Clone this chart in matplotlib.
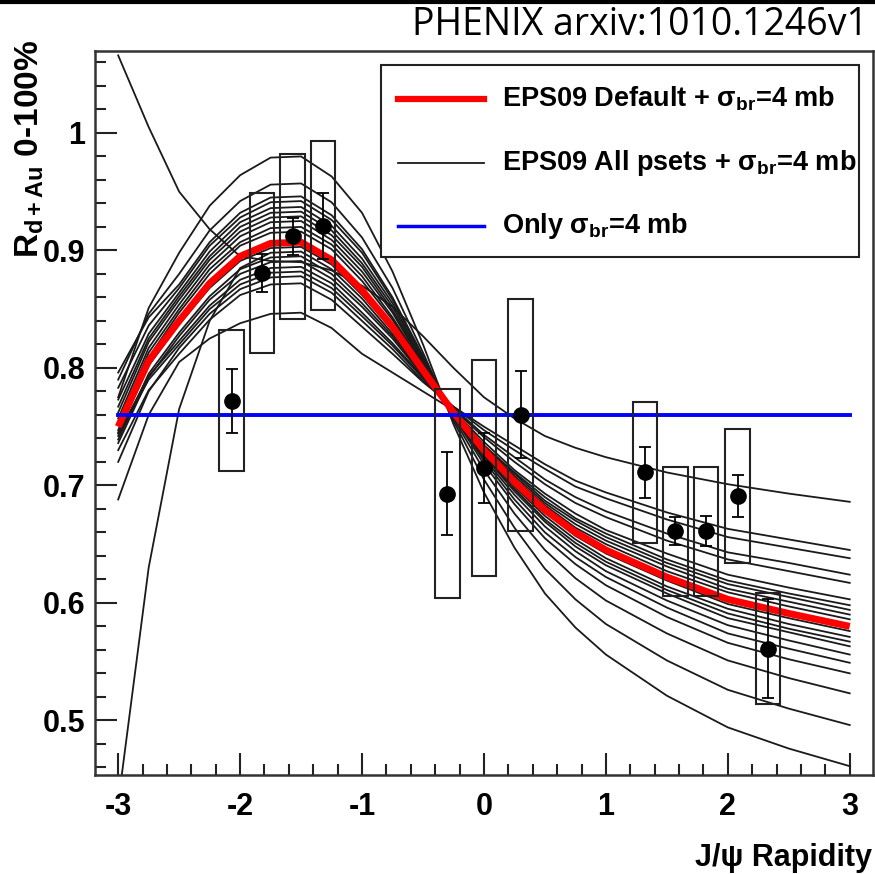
import matplotlib
matplotlib.use("Agg")
import matplotlib.pyplot as plt
from matplotlib.patches import Rectangle
from matplotlib.lines import Line2D
from matplotlib.ticker import MultipleLocator

plt.rcParams['font.family'] = ['Liberation Sans', 'DejaVu Sans']
plt.rcParams['font.weight'] = 'bold'
plt.rcParams['mathtext.fontset'] = 'custom'
plt.rcParams['mathtext.rm'] = 'Liberation Sans'
plt.rcParams['mathtext.bf'] = 'Liberation Sans:bold'
plt.rcParams['mathtext.it'] = 'Liberation Sans:italic'

# rapidity grid of the model curves
rap = [-3, -2.75, -2.5, -2.25, -2, -1.75, -1.5, -1.25, -1, -0.75, -0.5, -0.25,
       0, 0.25, 0.5, 0.75, 1, 1.5, 2, 2.5, 3]

eps09_default = [0.750, 0.806, 0.840, 0.872, 0.895, 0.906, 0.907, 0.892, 0.866, 0.835, 0.798,
                 0.762, 0.730, 0.703, 0.679, 0.660, 0.645, 0.622, 0.603, 0.591, 0.580]

eps09_psets = [
    [0.775, 0.851, 0.898, 0.938, 0.964, 0.979, 0.980, 0.963, 0.932, 0.882, 0.820, 0.752, 0.694, 0.647, 0.608, 0.579, 0.556, 0.521, 0.494, 0.476, 0.461],
    [0.790, 0.846, 0.880, 0.917, 0.942, 0.956, 0.957, 0.941, 0.911, 0.868, 0.813, 0.755, 0.705, 0.664, 0.629, 0.603, 0.582, 0.551, 0.526, 0.510, 0.496],
    [0.796, 0.843, 0.871, 0.907, 0.932, 0.945, 0.946, 0.930, 0.901, 0.860, 0.810, 0.757, 0.713, 0.676, 0.645, 0.621, 0.602, 0.574, 0.551, 0.536, 0.523],
    [0.783, 0.836, 0.868, 0.904, 0.928, 0.941, 0.942, 0.926, 0.898, 0.858, 0.809, 0.759, 0.718, 0.684, 0.655, 0.633, 0.615, 0.588, 0.566, 0.552, 0.540],
    [0.773, 0.829, 0.864, 0.899, 0.924, 0.936, 0.937, 0.921, 0.893, 0.855, 0.807, 0.760, 0.721, 0.688, 0.660, 0.639, 0.622, 0.596, 0.574, 0.561, 0.549],
    [0.767, 0.825, 0.861, 0.895, 0.920, 0.932, 0.933, 0.917, 0.889, 0.852, 0.806, 0.760, 0.723, 0.692, 0.665, 0.644, 0.627, 0.602, 0.581, 0.568, 0.556],
    [0.762, 0.822, 0.858, 0.892, 0.916, 0.928, 0.929, 0.913, 0.886, 0.849, 0.805, 0.761, 0.725, 0.695, 0.669, 0.648, 0.632, 0.608, 0.587, 0.575, 0.563],
    [0.757, 0.817, 0.854, 0.888, 0.912, 0.924, 0.925, 0.909, 0.882, 0.847, 0.803, 0.761, 0.726, 0.697, 0.671, 0.651, 0.635, 0.611, 0.591, 0.578, 0.567],
    [0.753, 0.813, 0.850, 0.884, 0.907, 0.919, 0.920, 0.905, 0.878, 0.843, 0.802, 0.761, 0.727, 0.699, 0.674, 0.654, 0.638, 0.614, 0.595, 0.582, 0.571],
    [0.747, 0.809, 0.847, 0.880, 0.904, 0.915, 0.916, 0.901, 0.874, 0.841, 0.801, 0.762, 0.729, 0.701, 0.677, 0.657, 0.642, 0.619, 0.599, 0.587, 0.576],
    [0.745, 0.802, 0.837, 0.868, 0.891, 0.902, 0.903, 0.888, 0.862, 0.832, 0.797, 0.762, 0.732, 0.706, 0.683, 0.664, 0.650, 0.627, 0.609, 0.597, 0.586],
    [0.430, 0.630, 0.765, 0.840, 0.885, 0.898, 0.899, 0.884, 0.859, 0.829, 0.795, 0.763, 0.734, 0.711, 0.690, 0.672, 0.659, 0.637, 0.619, 0.608, 0.598],
    [0.739, 0.795, 0.830, 0.861, 0.884, 0.894, 0.895, 0.880, 0.855, 0.827, 0.794, 0.763, 0.734, 0.710, 0.687, 0.670, 0.656, 0.634, 0.616, 0.605, 0.594],
    [0.736, 0.792, 0.827, 0.858, 0.880, 0.890, 0.891, 0.876, 0.852, 0.825, 0.793, 0.763, 0.733, 0.708, 0.685, 0.667, 0.653, 0.631, 0.612, 0.601, 0.590],
    [0.744, 0.793, 0.823, 0.853, 0.875, 0.885, 0.886, 0.872, 0.847, 0.821, 0.792, 0.765, 0.741, 0.720, 0.701, 0.685, 0.673, 0.653, 0.637, 0.627, 0.617],
    [0.742, 0.790, 0.820, 0.850, 0.871, 0.881, 0.882, 0.868, 0.844, 0.819, 0.791, 0.766, 0.743, 0.724, 0.705, 0.690, 0.678, 0.659, 0.643, 0.634, 0.624],
    [0.720, 0.780, 0.817, 0.846, 0.867, 0.877, 0.878, 0.864, 0.840, 0.816, 0.789, 0.767, 0.747, 0.730, 0.714, 0.699, 0.689, 0.671, 0.656, 0.647, 0.638],
    [0.730, 0.781, 0.812, 0.841, 0.862, 0.871, 0.872, 0.858, 0.835, 0.812, 0.788, 0.767, 0.750, 0.734, 0.718, 0.704, 0.694, 0.677, 0.663, 0.654, 0.645],
    [0.688, 0.760, 0.805, 0.825, 0.838, 0.846, 0.847, 0.834, 0.812, 0.796, 0.780, 0.764, 0.737, 0.713, 0.693, 0.676, 0.662, 0.642, 0.624, 0.613, 0.603],
    [1.066, 1.005, 0.950, 0.918, 0.895, 0.891, 0.890, 0.883, 0.870, 0.852, 0.827, 0.800, 0.775, 0.757, 0.742, 0.732, 0.724, 0.711, 0.701, 0.693, 0.686],
]

sigma_only = 0.76

# PHENIX d+Au points
pt_y = [-2.07, -1.82, -1.57, -1.32, -0.30, 0.00, 0.30, 1.32, 1.57, 1.82, 2.08, 2.33]
pt_r = [0.772, 0.881, 0.912, 0.921, 0.693, 0.715, 0.760, 0.711, 0.661, 0.661, 0.691, 0.561]
pt_stat = [0.027, 0.016, 0.016, 0.028, 0.035, 0.030, 0.037, 0.022, 0.012, 0.013, 0.018, 0.042]
pt_syst = [0.060, 0.068, 0.070, 0.072, 0.089, 0.092, 0.099, 0.060, 0.055, 0.055, 0.057, 0.047]

fig = plt.figure(figsize=(8.75, 8.74), dpi=100)
ax = fig.add_axes([0.1086, 0.1133, 0.889, 0.8287])

for c in eps09_psets:
    ax.plot(rap, c, color='#1a1a1a', lw=1.3, zorder=2)
ax.plot(rap, eps09_default, color='#ff0000', lw=5, zorder=3, solid_capstyle='butt')
ax.plot([rap[0], rap[-1]], [sigma_only, sigma_only], color='#0000ff', lw=2.8, zorder=4)

for x, y, s in zip(pt_y, pt_r, pt_syst):
    ax.add_patch(Rectangle((x - 0.1, y - s), 0.2, 2 * s, fill=False,
                           edgecolor='#222222', lw=1.5, zorder=5))
ax.errorbar(pt_y, pt_r, yerr=pt_stat, fmt='o', color='black', ms=11,
            capsize=4, elinewidth=1.3, capthick=1.3, zorder=6)

ax.set_xlim(-3.19, 3.19)
ax.set_ylim(0.4535, 1.07)
ax.xaxis.set_major_locator(MultipleLocator(1))
ax.xaxis.set_minor_locator(MultipleLocator(0.2))
ax.yaxis.set_major_locator(MultipleLocator(0.1))
ax.yaxis.set_minor_locator(MultipleLocator(0.02))
ax.xaxis.set_major_formatter(plt.FuncFormatter(lambda v, p: '%g' % v))
ax.yaxis.set_major_formatter(plt.FuncFormatter(lambda v, p: '%g' % round(v, 2)))
ax.tick_params(which='both', direction='in', top=False, right=False, width=1.5, colors='#222222')
ax.tick_params(which='major', length=16, labelsize=22, pad=7, labelcolor='black')
ax.tick_params(axis='x', which='major', pad=12)
ax.tick_params(which='minor', length=8)
for sp in ax.spines.values():
    sp.set_linewidth(1.8)
    sp.set_color('#333333')

# legend box
ax.add_patch(Rectangle((0.3676, 0.715), 0.6144, 0.265, transform=ax.transAxes,
                       fill=True, facecolor='white', edgecolor='#222222', lw=1.5, zorder=7))
leg_items = [
    ('#ff0000', 4.5, 0.933, r'EPS09 Default + $\mathrm{\sigma}_{\mathbf{br}}$=4 mb'),
    ('#1a1a1a', 1.3, 0.845, r'EPS09 All psets + $\mathrm{\sigma}_{\mathbf{br}}$=4 mb'),
    ('#0000ff', 2.5, 0.758, r'Only $\mathrm{\sigma}_{\mathbf{br}}$=4 mb'),
]
for col, lw, yy, lab in leg_items:
    ax.add_line(Line2D([0.3895, 0.500], [yy, yy], transform=ax.transAxes,
                       color=col, lw=lw, zorder=8))
    ax.text(0.523, yy, lab, transform=ax.transAxes, fontsize=19.5,
            va='center', ha='left', zorder=8)

fig.text(872 / 875, 1 - 858 / 874, 'J/ψ Rapidity', ha='right', va='center', fontsize=22)
fig.text(30 / 875, 1 - 40 / 874, r'R$_{\mathbf{d+Au}}$ 0-100%', rotation=90,
         ha='center', va='top', fontsize=24)

# header
fig.add_artist(Line2D([0, 1], [0.998, 0.998], transform=fig.transFigure, color='black', lw=3))
fig.text(868 / 875, 1 - 25 / 874, 'PHENIX arxiv:1010.1246v1', ha='right', va='center',
         fontsize=27, fontweight='normal', family=['Open Sans', 'DejaVu Sans'])

fig.savefig('out.png', dpi=100)
